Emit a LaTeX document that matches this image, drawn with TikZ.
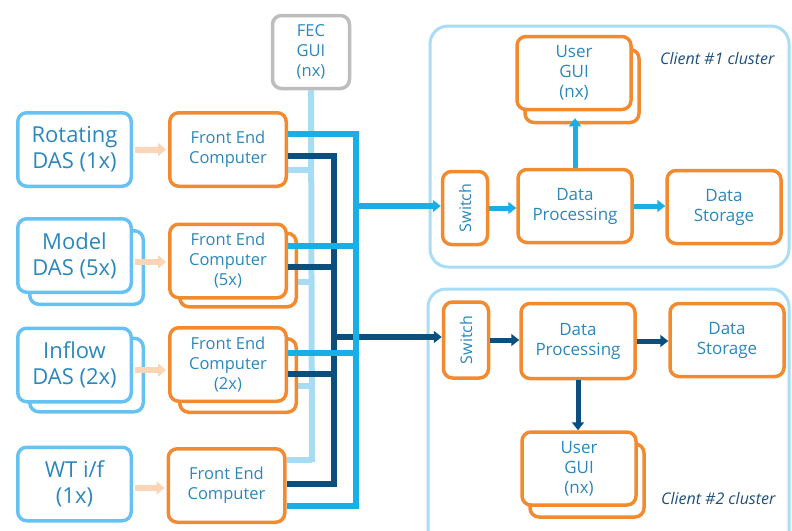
\documentclass[tikz,border=0pt]{standalone}
\usepackage{fontspec}
\usepackage{graphicx}
\setmainfont{Open Sans}
\usetikzlibrary{arrows.meta,calc,backgrounds}
\definecolor{dasblue}{HTML}{66C2F2}
\definecolor{orng}{HTML}{F28A30}
\definecolor{txt}{HTML}{2B88BC}
\definecolor{lightbus}{HTML}{A6DDF5}
\definecolor{darkbus}{HTML}{0B4F7E}
\definecolor{brightbus}{HTML}{1AAEE6}
\definecolor{guigray}{HTML}{BDBDBD}
\definecolor{peach}{HTML}{FCD4B6}
\definecolor{clientlbl}{HTML}{1E4F7A}
\definecolor{clusterline}{HTML}{A8DDF5}
\begin{document}
\begin{tikzpicture}[x=1pt,y=-1pt,
  box/.style={rounded corners=9pt, line width=3.5pt, fill=white, align=center, inner sep=0pt, text=txt},
  dasbox/.style={box, draw=dasblue, minimum width=113.5pt, minimum height=73.5pt, font=\fontsize{22}{26}\selectfont},
  fecbox/.style={box, draw=orng, minimum width=116.5pt, minimum height=73.5pt, font=\fontsize{16.5}{20}\selectfont},
  obox/.style={box, draw=orng, minimum width=114pt, minimum height=73pt, font=\fontsize{17}{20}\selectfont},
  swbox/.style={box, draw=orng, minimum width=45pt, minimum height=73pt, font=\fontsize{16}{20}\selectfont},
  guibox/.style={box, draw=guigray, minimum width=77pt, minimum height=73pt, font=\fontsize{16.5}{20}\selectfont},
  lightline/.style={draw=lightbus, line width=6pt},
  darkline/.style={draw=darkbus, line width=5.5pt, line join=miter},
  brightline/.style={draw=brightbus, line width=5.5pt, line join=miter},
  peacharrow/.style={draw=peach, line width=6pt, -{Triangle[length=8pt,width=13pt]}, shorten <=2pt, shorten >=2pt},
  tipb/.style={-{Triangle[length=8pt,width=12pt]}},
  clusterbox/.style={draw=clusterline, line width=3pt, rounded corners=18pt},
  clientlabel/.style={anchor=east, text=clientlbl, font=\itshape\fontsize{16}{19}\selectfont}
]
\useasboundingbox (0,0) rectangle (792,530);
\clip (0,0) rectangle (792,530);

% clusters
\draw[clusterbox] (430,26) rectangle (789,267);
\draw[clusterbox] (428,289) rectangle (789,560);
\node[clientlabel] (c1lbl) at (778,58) {Client \#1 cluster};
\node[clientlabel] (c2lbl) at (779,498) {Client \#2 cluster};

% DAS boxes
\node[dasbox] (das1) at (74.5,149.5) {Rotating\\DAS (1x)};
\node[dasbox] (das2b) at (86.5,267.5) {};
\node[dasbox] (das2) at (74.5,255.5) {Model\\DAS (5x)};
\node[dasbox] (das3b) at (86.5,375) {};
\node[dasbox] (das3) at (74.5,365) {Inflow\\DAS (2x)};
\node[dasbox] (das4) at (74.5,484) {WT i/f\\(1x)};

% FEC boxes
\node[fecbox] (fec1) at (228,149.5) {Front End\\Computer};
\node[fecbox] (fec2b) at (238,270) {};
\node[fecbox] (fec2) at (228,261) {Front End\\Computer\\(5x)};
\node[fecbox] (fec3b) at (238,375.5) {};
\node[fecbox] (fec3) at (228,364.5) {Front End\\Computer\\(2x)};
\node[fecbox] (fec4) at (226.5,485.5) {Front End\\Computer};

\node[guibox] (fecgui) at (311,52) {FEC\\GUI\\(nx)};

% cluster 1
\node[swbox] (sw1) at (465,208) {\rotatebox{90}{Switch}};
\node[obox] (dp1) at (575,206) {Data\\Processing};
\node[obox] (ds1) at (724,207) {Data\\Storage};
\node[obox] (ug1b) at (582,86) {};
\node[obox] (ug1) at (574,73) {User\\GUI\\(nx)};

% cluster 2
\node[swbox, minimum height=76pt] (sw2) at (466,340) {\rotatebox{90}{Switch}};
\node[obox, minimum height=75pt] (dp2) at (578,341) {Data\\Processing};
\node[obox] (ds2) at (727,340) {Data\\Storage};
\node[obox] (ug2b) at (587,480.5) {};
\node[obox] (ug2) at (579,468.5) {User\\GUI\\(nx)};

% bus coordinates
\coordinate (lb4) at (312,460);
\coordinate (lb1) at (312,170);
\coordinate (lb2) at (312,282);
\coordinate (lb3) at (312,386);
\coordinate (dk4) at (334,484);
\coordinate (dk2) at (334,267);
\coordinate (dk3) at (334,374);
\coordinate (dkout) at (334,337);
\coordinate (br4) at (356,506);
\coordinate (br2) at (358,246);
\coordinate (br3) at (358,353);
\coordinate (brout) at (356,206);

% light bus (behind boxes)
\begin{pgfonlayer}{background}
\draw[lightline] (fecgui.south) -- (312,462);
\draw[lightline] ($(fec1.east)+(0,20.5)$) -- (lb1);
\draw[lightline] ($(fec2.east)+(0,21)$) -- (lb2);
\draw[lightline] ($(fec3.east)+(0,21.5)$) -- (lb3);
\draw[lightline] ($(fec4.east)+(0,-25.5)$) -- (lb4);
\end{pgfonlayer}

% dark bus
\draw[darkline] ($(fec1.east)+(0,6.5)$) -| (dk4) -- ($(fec4.east)+(0,-1.5)$);
\draw[darkline] ($(fec2.east)+(0,6)$) -- (dk2);
\draw[darkline] ($(fec3.east)+(0,9.5)$) -- (dk3);
\draw[darkline, tipb] (dkout) -- (dkout -| sw2.west);

% bright bus
\draw[brightline] ($(fec1.east)+(0,-15.5)$) -| (br4) -- ($(fec4.east)+(0,20.5)$);
\draw[brightline] ($(fec2.east)+(0,-15)$) -- (br2);
\draw[brightline] ($(fec3.east)+(0,-11.5)$) -- (br3);
\draw[brightline, tipb] (brout) -- (brout -| sw1.west);

% peach arrows
\draw[peacharrow] (das1.east) -- (fec1.west);
\draw[peacharrow] ($(das2.east)+(0,6.5)$) -- ($(fec2.west)+(0,1)$);
\draw[peacharrow] ($(das3.east)+(0,5)$) -- ($(fec3.west)+(0,5.5)$);
\draw[peacharrow] ($(das4.east)+(0,4)$) -- ($(fec4.west)+(0,2.5)$);

% cluster 1 arrows
\draw[brightline, line width=5pt, tipb] (sw1.east) -- (sw1.east -| dp1.west);
\draw[brightline, line width=5pt, tipb] (dp1.east) -- (dp1.east -| ds1.west);
\draw[brightline, line width=5pt, tipb, shorten >=7pt] (dp1.north) -- (dp1.north |- ug1.south);
% cluster 2 arrows
\draw[darkline, line width=5pt, tipb] (sw2.east) -- (sw2.east -| dp2.west);
\draw[darkline, line width=5pt, tipb] (dp2.east) -- (dp2.east -| ds2.west);
\draw[darkline, line width=5pt, tipb] (dp2.south) -- (dp2.south |- ug2.north);
\end{tikzpicture}
\end{document}
